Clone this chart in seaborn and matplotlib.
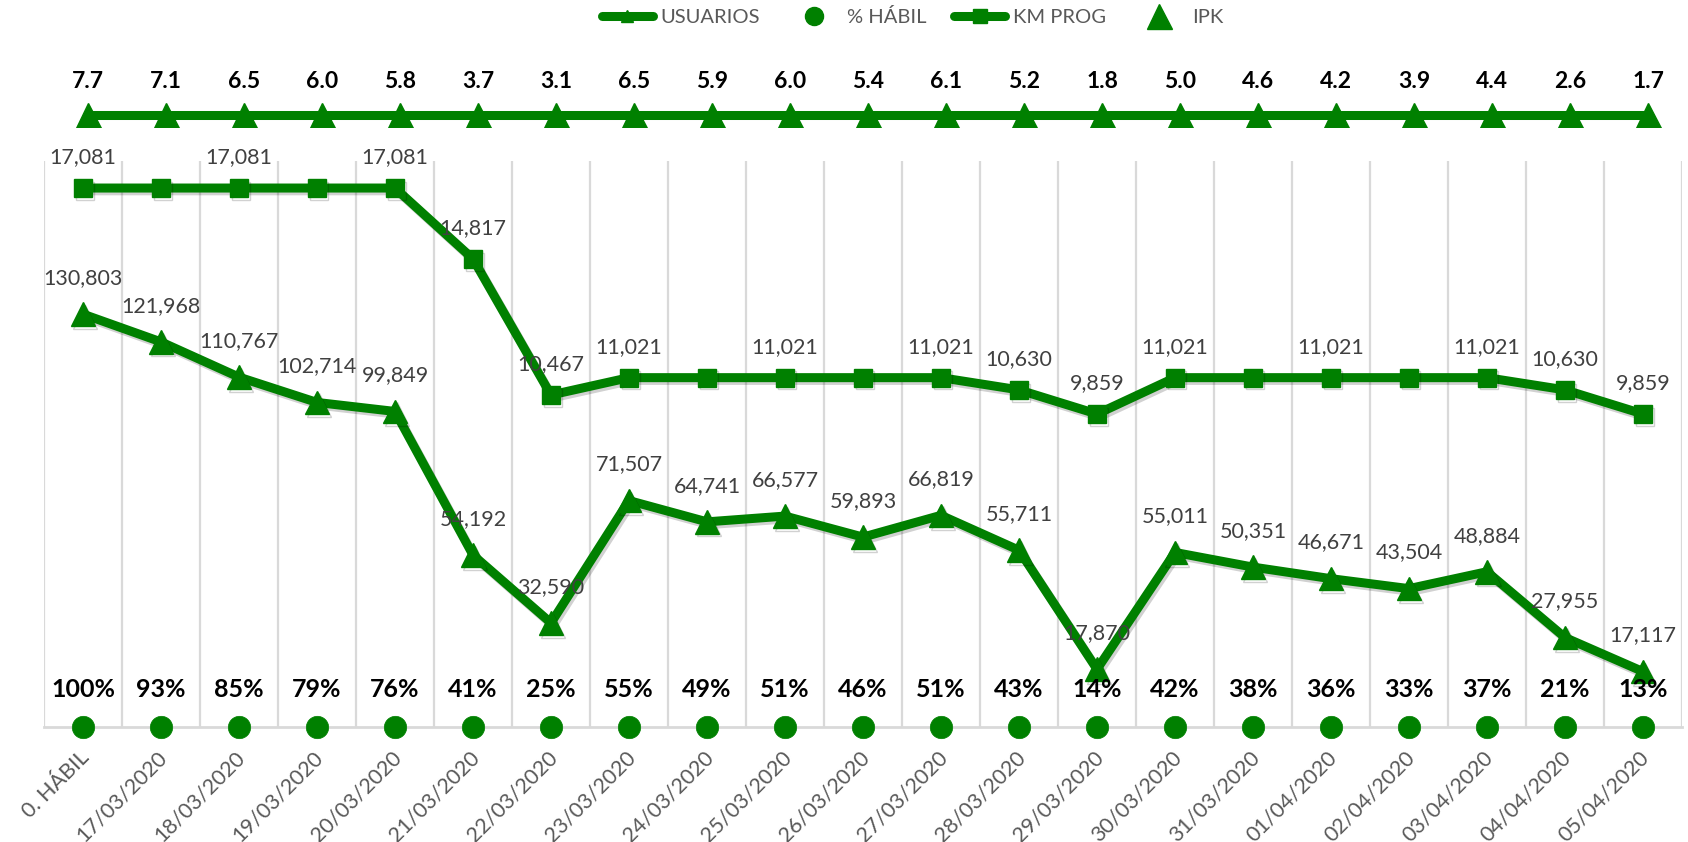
import numpy as np
import pandas as pd
import matplotlib
matplotlib.use("Agg")
import matplotlib.pyplot as plt
import matplotlib.patheffects as pe
from matplotlib.lines import Line2D
from matplotlib.transforms import ScaledTranslation
import seaborn as sns

# ---- data -------------------------------------------------------------
fechas = ["0. HÁBIL", "17/03/2020", "18/03/2020", "19/03/2020", "20/03/2020",
          "21/03/2020", "22/03/2020", "23/03/2020", "24/03/2020", "25/03/2020",
          "26/03/2020", "27/03/2020", "28/03/2020", "29/03/2020", "30/03/2020",
          "31/03/2020", "01/04/2020", "02/04/2020", "03/04/2020", "04/04/2020",
          "05/04/2020"]
usuarios = [130803, 121968, 110767, 102714, 99849, 54192, 32590, 71507, 64741,
            66577, 59893, 66819, 55711, 17870, 55011, 50351, 46671, 43504,
            48884, 27955, 17117]
km_prog = [17081, 17081, 17081, 17081, 17081, 14817, 10467, 11021, 11021, 11021,
           11021, 11021, 10630, 9859, 11021, 11021, 11021, 11021, 11021, 10630,
           9859]
pct_habil = [100, 93, 85, 79, 76, 41, 25, 55, 49, 51, 46, 51, 43, 14, 42, 38,
             36, 33, 37, 21, 13]
ipk = [7.7, 7.1, 6.5, 6.0, 5.8, 3.7, 3.1, 6.5, 5.9, 6.0, 5.4, 6.1, 5.2, 1.8,
       5.0, 4.6, 4.2, 3.9, 4.4, 2.6, 1.7]
# KM PROG points whose value label is shown
km_labeled = [0, 2, 4, 5, 6, 7, 9, 11, 12, 13, 14, 16, 18, 19, 20]

df = pd.DataFrame({"pos": np.arange(len(fechas)), "fecha": fechas,
                   "usuarios": usuarios, "km": km_prog,
                   "habil": pct_habil, "ipk": ipk})
df["track"] = 0.0

# ---- style ------------------------------------------------------------
GREEN = "#008000"
GRID = "#D9D9D9"
LABEL = "#404040"
sns.set_theme(style="white")
plt.rcParams["font.family"] = ["Lato", "DejaVu Sans"]

W, H = 1688, 842
fig = plt.figure(figsize=(W / 100, H / 100), dpi=100)


def box(l, t, r, b):
    return [l / W, 1 - b / H, (r - l) / W, (b - t) / H]


shadow = [pe.SimpleLineShadow(offset=(1.5, -2), alpha=0.18, shadow_color="black"),
          pe.Normal()]
LW = 6.5
VAL_FS = 15.5
xlim = (-0.5, len(fechas) - 0.5)

# ---- main panel ------------------------------------------------------
ax = fig.add_axes(box(44, 161, 1682, 727))
ax.set_xlim(*xlim)
ax.set_ylim(0, 1)
ax.set_yticks([])
ax.set_xticks(df["pos"])
ax.set_xticks(np.arange(-0.5, len(fechas)), minor=True)
ax.grid(True, which="minor", axis="x", color=GRID, lw=1.6)
ax.grid(False, which="major")
for s in ["top", "right", "left"]:
    ax.spines[s].set_visible(False)
ax.spines["bottom"].set_color(GRID)
ax.spines["bottom"].set_linewidth(2)
ax.set_xticklabels(fechas, rotation=45, ha="right", va="center",
                   rotation_mode="anchor", color="#595959", fontsize=15.5)
ax.tick_params(axis="x", which="both", length=0, pad=19.5)

# USUARIOS
ax_u = ax.twinx()
sns.lineplot(data=df, x="pos", y="usuarios", ax=ax_u, color=GREEN, lw=LW,
             marker="^", markersize=17, markeredgecolor=GREEN, mew=1,
             path_effects=shadow)
ax_u.set_ylim(-500, 179500)
for i, v in enumerate(usuarios):
    ax_u.annotate(f"{v:,}", (i, v), xytext=(0, 26), textcoords="offset points",
                  ha="center", va="center", fontsize=VAL_FS, color=LABEL)

# KM PROG
ax_k = ax.twinx()
sns.lineplot(data=df, x="pos", y="km", ax=ax_k, color=GREEN, lw=LW,
             marker="s", markersize=13, markeredgecolor=GREEN, mew=1,
             path_effects=shadow)
ax_k.set_ylim(-144, 17945)
for i in km_labeled:
    ax_k.annotate(f"{km_prog[i]:,}", (i, km_prog[i]), xytext=(0, 22),
                  textcoords="offset points", ha="center", va="center",
                  fontsize=VAL_FS, color=LABEL)

# % HÁBIL row along the base line
ax_p = ax.twinx()
sns.scatterplot(data=df, x="pos", y="track", ax=ax_p, color=GREEN, s=260,
                edgecolor=GREEN, linewidth=0.5, clip_on=False, zorder=5)
ax_p.set_ylim(0, 1)
for i, v in enumerate(pct_habil):
    ax_p.annotate(f"{v}%", (i, 0), xytext=(0, 27), textcoords="offset points",
                  ha="center", va="center", fontsize=18, fontweight="bold",
                  color="black", zorder=6)

for a in (ax_u, ax_k, ax_p):
    a.set_xlim(*xlim)
    a.set_yticks([])
    a.set_ylabel("")
    a.set_xlabel("")
    for s in a.spines.values():
        s.set_visible(False)
    if a.get_legend():
        a.get_legend().remove()
ax.set_xlabel("")

# ---- IPK strip --------------------------------------------------------
ax_i = fig.add_axes(box(49, 60, 1687, 127))
sns.lineplot(data=df, x="pos", y="track", ax=ax_i, color=GREEN, lw=LW,
             marker="^", markersize=18, markeredgecolor=GREEN, mew=1)
ax_i.set_xlim(*xlim)
ax_i.set_ylim(-0.179, 0.821)
ax_i.axis("off")
for i, v in enumerate(ipk):
    ax_i.annotate(f"{v:.1f}", (i, 0), xytext=(0, 24), textcoords="offset points",
                  ha="center", va="center", fontsize=16.5, fontweight="bold",
                  color="black", annotation_clip=False)

# ---- legend -----------------------------------------------------------
handles = [
    Line2D([], [], color=GREEN, lw=6.5, marker="^", markersize=9),
    Line2D([], [], color=GREEN, lw=0, marker="o", markersize=13),
    Line2D([], [], color=GREEN, lw=6.5, marker="s", markersize=10),
    Line2D([], [], color=GREEN, lw=0, marker="^", markersize=18),
]
fig.legend(handles, ["USUARIOS", "% HÁBIL", "KM PROG", "IPK"], ncol=4,
           loc="center", bbox_to_anchor=(913 / W, 1 - 17 / H), frameon=False,
           fontsize=14.5, labelcolor="#595959", handlelength=2.5,
           handletextpad=0.4, columnspacing=1.4)

# nudge the rotated date labels so their ends sit at each column
for lbl in ax.get_xticklabels():
    lbl.set_transform(lbl.get_transform()
                      + ScaledTranslation(3 / 100, 0, fig.dpi_scale_trans))

fig.savefig("out.png", dpi=100)
